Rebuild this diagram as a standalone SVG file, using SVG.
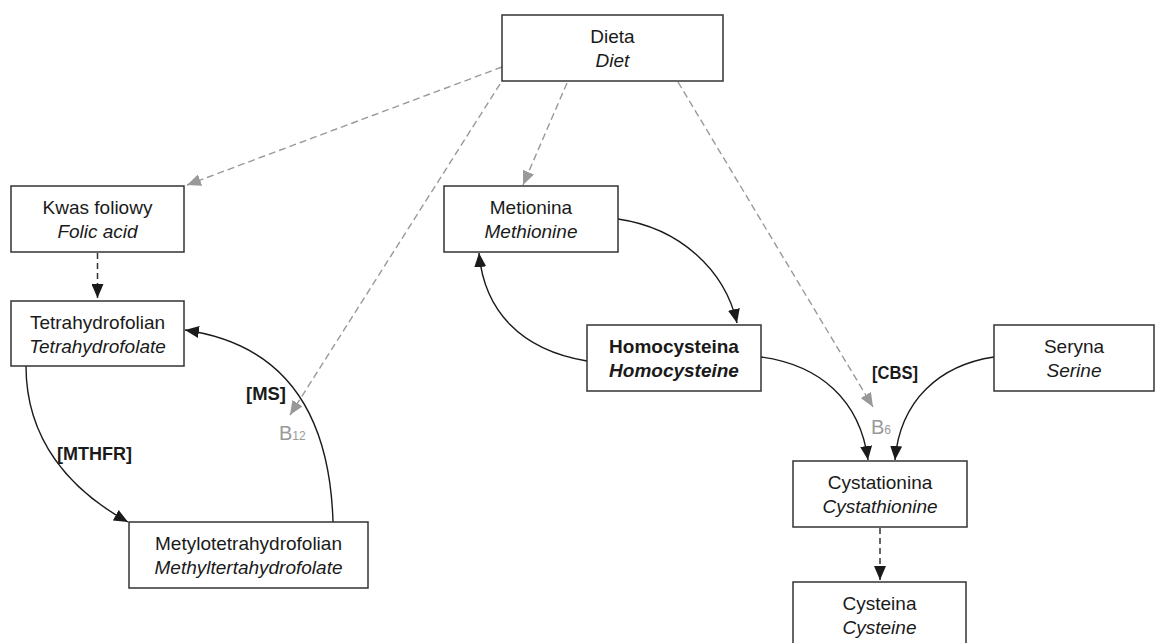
<svg xmlns="http://www.w3.org/2000/svg" width="1155" height="643" viewBox="0 0 1155 643">
<style>
.box{fill:#fff;stroke:#333;stroke-width:1.5}
.t{font-family:"Liberation Sans",Arial,sans-serif;font-size:19px;fill:#1a1a1a;text-anchor:middle}
.i{font-style:italic}
.b{font-weight:bold}
.lbl{font-family:"Liberation Sans",Arial,sans-serif;font-size:18px;font-weight:bold;fill:#1a1a1a}
.vit{font-family:"Liberation Sans",Arial,sans-serif;fill:#999}
.solid{fill:none;stroke:#1a1a1a;stroke-width:1.4}
.dblack{fill:none;stroke:#333;stroke-width:1.5;stroke-dasharray:6,4}
.dgray{fill:none;stroke:#999;stroke-width:1.4;stroke-dasharray:7,4}
</style>
<defs>
<marker id="ab" viewBox="0 0 14 12" refX="14" refY="6" markerWidth="14" markerHeight="12" markerUnits="userSpaceOnUse" orient="auto"><path d="M0,0 L14,6 L0,12 Z" fill="#1a1a1a"/></marker>
<marker id="ag" viewBox="0 0 14 12" refX="14" refY="6" markerWidth="14" markerHeight="12" markerUnits="userSpaceOnUse" orient="auto"><path d="M0,0 L14,6 L0,12 Z" fill="#999"/></marker>
</defs>
<rect width="1155" height="643" fill="#fff"/>
<g id="connectors">
<path class="dgray" d="M502,67 L187,185" marker-end="url(#ag)"/>
<path class="dgray" d="M500,84 L290,415" marker-end="url(#ag)"/>
<path class="dgray" d="M567,83 L523,185" marker-end="url(#ag)"/>
<path class="dgray" d="M678,82 L873,407" marker-end="url(#ag)"/>
<path class="dblack" d="M97.5,253 L97.5,298" marker-end="url(#ab)"/>
<path class="dblack" d="M880,528 L880,580" marker-end="url(#ab)"/>
<path class="solid" d="M26,366 C26,440 70,490 128,522" marker-end="url(#ab)"/>
<path class="solid" d="M333,522 C330,420 290,345 185,330" marker-end="url(#ab)"/>
<path class="solid" d="M618,219 C680,228 725,270 737,323" marker-end="url(#ab)"/>
<path class="solid" d="M587,361 C520,350 484,310 479,253" marker-end="url(#ab)"/>
<path class="solid" d="M761,357 C820,365 860,400 868,460" marker-end="url(#ab)"/>
<path class="solid" d="M994,357 C940,365 900,400 895,460" marker-end="url(#ab)"/>
</g>
<g id="labels">
<text class="lbl" x="57" y="460" textLength="75" lengthAdjust="spacingAndGlyphs">[MTHFR]</text>
<text class="lbl" x="246" y="400" textLength="40" lengthAdjust="spacingAndGlyphs">[MS]</text>
<text class="lbl" x="872" y="379" textLength="46" lengthAdjust="spacingAndGlyphs">[CBS]</text>
<text class="vit" x="279" y="440" font-size="20">B<tspan font-size="12">12</tspan></text>
<text class="vit" x="871" y="434" font-size="20">B<tspan font-size="12">6</tspan></text>
</g>
<g id="dieta">
<rect class="box" x="502" y="15" width="221" height="66"/>
<text class="t" x="612.5" y="43">Dieta</text>
<text class="t i" x="612.5" y="67">Diet</text>
</g>
<g id="kwas">
<rect class="box" x="11" y="186" width="173" height="66"/>
<text class="t" x="97.5" y="214">Kwas foliowy</text>
<text class="t i" x="97.5" y="238">Folic acid</text>
</g>
<g id="tetra">
<rect class="box" x="11" y="301" width="173" height="65"/>
<text class="t" x="97.5" y="329">Tetrahydrofolian</text>
<text class="t i" x="97.5" y="353">Tetrahydrofolate</text>
</g>
<g id="metylo">
<rect class="box" x="129" y="522" width="239" height="66"/>
<text class="t" x="248.5" y="550">Metylotetrahydrofolian</text>
<text class="t i" x="248.5" y="574">Methyltertahydrofolate</text>
</g>
<g id="metionina">
<rect class="box" x="444" y="186" width="174" height="66"/>
<text class="t" x="531" y="214">Metionina</text>
<text class="t i" x="531" y="238">Methionine</text>
</g>
<g id="homocysteina">
<rect class="box" x="587" y="325" width="174" height="66"/>
<text class="t b" x="674" y="353">Homocysteina</text>
<text class="t b i" x="674" y="377">Homocysteine</text>
</g>
<g id="seryna">
<rect class="box" x="994" y="325" width="160" height="66"/>
<text class="t" x="1074" y="353">Seryna</text>
<text class="t i" x="1074" y="377">Serine</text>
</g>
<g id="cystationina">
<rect class="box" x="793" y="461" width="174" height="66"/>
<text class="t" x="880" y="489">Cystationina</text>
<text class="t i" x="880" y="513">Cystathionine</text>
</g>
<g id="cysteina">
<rect class="box" x="793" y="582" width="173" height="70"/>
<text class="t" x="879.5" y="610">Cysteina</text>
<text class="t i" x="879.5" y="634">Cysteine</text>
</g>
</svg>
